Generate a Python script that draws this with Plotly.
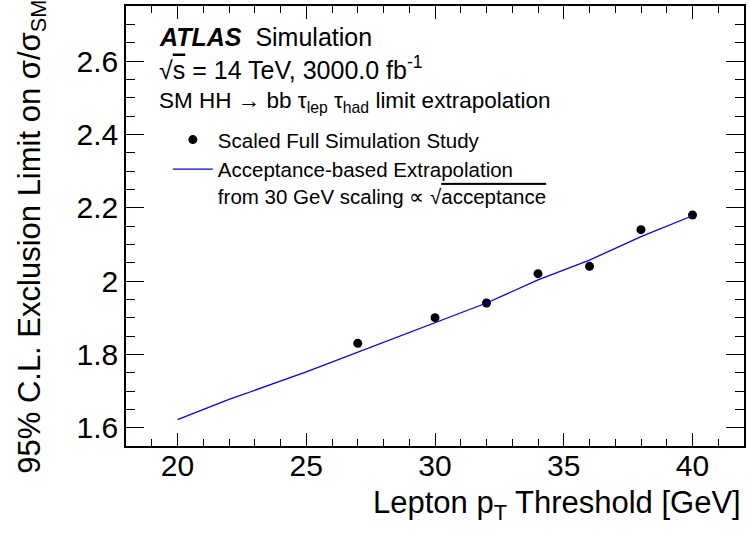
import plotly.graph_objects as go

# Scaled full simulation study (points)
pt_points = [27, 30, 32, 34, 36, 38, 40]
limit_points = [1.83, 1.90, 1.94, 2.02, 2.04, 2.14, 2.18]

# Acceptance-based extrapolation (line)
pt_line = [20, 22, 25, 27, 30, 31, 32, 34, 36, 38, 40]
limit_line = [1.622, 1.677, 1.752, 1.806, 1.888, 1.914, 1.940, 2.003, 2.057, 2.121, 2.178]

FONT = "Liberation Sans, Arial, Helvetica, sans-serif"

fig = go.Figure()
fig.add_trace(go.Scatter(
    x=pt_points, y=limit_points, mode="markers",
    marker=dict(color="black", size=9, symbol="circle"),
    name="Scaled Full Simulation Study",
))
fig.add_trace(go.Scatter(
    x=pt_line, y=limit_line, mode="lines",
    line=dict(color="#0000ff", width=1.3),
    name="Acceptance-based Extrapolation<br>from 30 GeV scaling ∝ √<span style=\"text-decoration:overline\">acceptance</span>",
))

axis_common = dict(
    showgrid=False, zeroline=False, showline=True, linecolor="black", linewidth=1.5,
    mirror="ticks", ticks="inside", tickcolor="black", tickwidth=1.2,
    tickfont=dict(family=FONT, size=30, color="black"),
)

fig.update_layout(
    width=750, height=533,
    margin=dict(l=126, r=4, t=5, b=87),
    paper_bgcolor="white", plot_bgcolor="white",
    font=dict(family=FONT, color="black"),
    showlegend=True,
    legend=dict(
        x=(168 - 126) / 620, y=1 - (119 - 5) / 441, xanchor="left", yanchor="top",
        font=dict(family=FONT, size=20.5, color="black"),
        bgcolor="rgba(0,0,0,0)", borderwidth=0, valign="top", tracegroupgap=0,
        itemwidth=40,
    ),
    xaxis=dict(
        range=[18, 42], tick0=20, dtick=5, ticklen=13, ticklabelstandoff=-8,
        minor=dict(dtick=1, ticklen=7, ticks="inside", tickcolor="black", tickwidth=1.2, showgrid=False),
        **axis_common,
    ),
    yaxis=dict(
        range=[1.55, 2.75], tick0=1.6, dtick=0.2, ticklen=18,
        minor=dict(dtick=0.05, ticklen=9, ticks="inside", tickcolor="black", tickwidth=1.2, showgrid=False),
        **axis_common,
    ),
)

annotations = [
    dict(text="<b><i>ATLAS</i></b>  Simulation", x=(157 - 126) / 620, y=1 - (36 - 5) / 441,
         font=dict(size=25)),
    dict(text="√<span style=\"text-decoration:overline\">s</span> = 14 TeV, 3000.0 fb<sup>-1</sup>",
         x=(157 - 126) / 620, y=1 - (67 - 5) / 441, font=dict(size=25)),
    dict(text="SM HH → bb τ<sub>lep</sub> τ<sub>had</sub> limit extrapolation",
         x=(157 - 126) / 620, y=1 - (101 - 5) / 441, font=dict(size=22.5)),
]
for a in annotations:
    fig.add_annotation(xref="paper", yref="paper", xanchor="left", yanchor="middle",
                       showarrow=False, align="left", **a)

fig.add_annotation(
    text="Lepton p<sub>T</sub> Threshold [GeV]", xref="paper", yref="paper",
    x=(745 - 126) / 620, y=-(505 - 446) / 441, xanchor="right", yanchor="middle", showarrow=False,
    font=dict(size=31),
)
fig.add_annotation(
    text="95% C.L. Exclusion Limit on σ/σ<sub>SM</sub>", xref="paper", yref="paper",
    x=-(126 - 32) / 620, y=1 - (236 - 5) / 441, xanchor="center", yanchor="middle",
    textangle=-90, showarrow=False, font=dict(size=31),
)

fig.write_html("out.html")
